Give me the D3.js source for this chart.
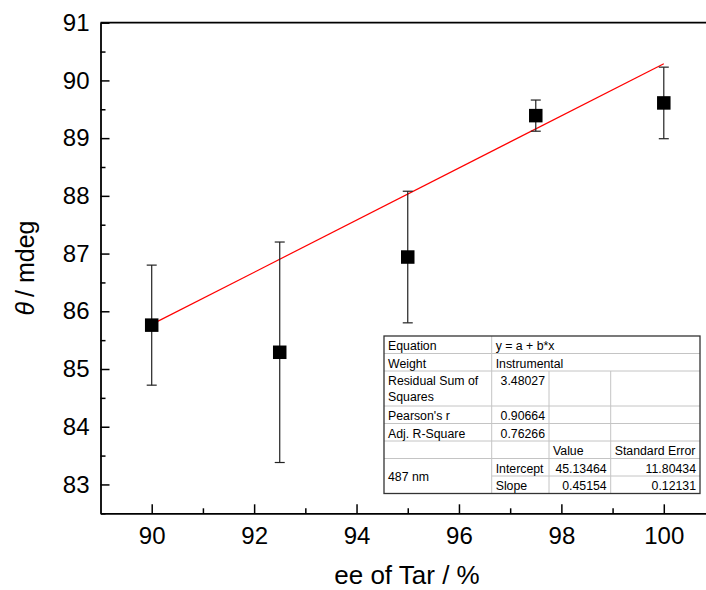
<!DOCTYPE html>
<html>
<head>
<meta charset="utf-8">
<script src="https://cdn.jsdelivr.net/npm/d3@7"></script>
<style>
  body { margin: 0; background: #fff; }
  svg { display: block; font-family: "Liberation Sans", Arial, sans-serif; }
</style>
</head>
<body>
<div id="chart-area"></div>
<script>
var eeValues = [90, 92.5, 95, 97.5, 100];
var thetaValues = [85.76, 85.29, 86.94, 89.39, 89.61];
var errValues = [1.04, 1.91, 1.14, 0.27, 0.62];

// linear fit reported in the table
var fitIntercept = 45.13464;
var fitSlope = 0.45154;
var fitRange = [90, 100];

var xTicks = [90, 92, 94, 96, 98, 100];
var xMinorTicks = [91, 93, 95, 97, 99];
var yTicks = [83, 84, 85, 86, 87, 88, 89, 90, 91];
var yMinorTicks = [82.5, 83.5, 84.5, 85.5, 86.5, 87.5, 88.5, 89.5, 90.5];

// fit table text
var statNames = ["Equation", "Weight", "Residual Sum of|Squares", "Pearson's r", "Adj. R-Square"];
var statValues = ["y = a + b*x", "Instrumental", "3.48027", "0.90664", "0.76266"];
var paramHeader = ["Value", "Standard Error"];
var paramNames = ["Intercept", "Slope"];
var paramValues = ["45.13464", "0.45154"];
var paramErrors = ["11.80434", "0.12131"];
var seriesName = "487 nm";

var width = 706, height = 590;

var svg = d3.select("#chart-area").append("svg")
    .attr("width", width)
    .attr("height", height);

var x = d3.scaleLinear().domain([89, 101]).range([100.5, 715]);
var y = d3.scaleLinear().domain([82.5, 91]).range([513.3, 22.7]);

// top frame line
svg.append("line")
    .attr("x1", x(89)).attr("x2", width)
    .attr("y1", y(91)).attr("y2", y(91))
    .attr("stroke", "#000").attr("stroke-width", 1.8);

// minor ticks
svg.append("g")
    .attr("transform", "translate(0," + y(82.5) + ")")
    .call(d3.axisBottom(x).tickValues(xMinorTicks).tickSize(-5).tickFormat(""))
    .call(function(g){ g.select(".domain").remove(); })
    .selectAll("line").attr("stroke-width", 1.5);
svg.append("g")
    .attr("transform", "translate(" + x(89) + ",0)")
    .call(d3.axisLeft(y).tickValues(yMinorTicks).tickSize(-5).tickFormat(""))
    .call(function(g){ g.select(".domain").remove(); })
    .selectAll("line").attr("stroke-width", 1.5);

// x axis
var xAxis = svg.append("g")
    .attr("transform", "translate(0," + y(82.5) + ")")
    .call(d3.axisBottom(x).tickValues(xTicks).tickSize(-9).tickSizeOuter(0).tickPadding(14));
xAxis.select(".domain").attr("stroke-width", 1.8);
xAxis.selectAll(".tick line").attr("stroke-width", 1.5);
xAxis.selectAll("text")
    .attr("font-size", 24)
    .attr("font-family", "Liberation Sans, Arial, sans-serif")
    .attr("fill", "#000");

// y axis
var yAxis = svg.append("g")
    .attr("transform", "translate(" + x(89) + ",0)")
    .call(d3.axisLeft(y).tickValues(yTicks).tickSize(-9).tickSizeOuter(0).tickPadding(11));
yAxis.select(".domain").attr("stroke-width", 1.8);
yAxis.selectAll(".tick line").attr("stroke-width", 1.5);
yAxis.selectAll("text")
    .attr("font-size", 24)
    .attr("font-family", "Liberation Sans, Arial, sans-serif")
    .attr("fill", "#000");

// axis titles
svg.append("text")
    .attr("x", 407).attr("y", 584)
    .attr("text-anchor", "middle")
    .attr("font-size", 26)
    .text("ee of Tar / %");

var yTitle = svg.append("text")
    .attr("transform", "translate(34,268) rotate(-90)")
    .attr("text-anchor", "middle")
    .attr("font-size", 25);
yTitle.append("tspan").attr("font-style", "italic").text("\u03b8");
yTitle.append("tspan").text("\u2009/ mdeg");

// fit line
svg.append("line")
    .attr("x1", x(fitRange[0])).attr("y1", y(fitIntercept + fitSlope * fitRange[0]))
    .attr("x2", x(fitRange[1])).attr("y2", y(fitIntercept + fitSlope * fitRange[1]))
    .attr("stroke", "#ff0000").attr("stroke-width", 1.2);

// error bars
var bars = svg.selectAll(".err")
    .data(eeValues)
    .enter().append("g").attr("class", "err")
    .attr("stroke", "#222").attr("stroke-width", 1.2);
bars.append("line")
    .attr("x1", function(d){ return x(d); })
    .attr("x2", function(d){ return x(d); })
    .attr("y1", function(d, i){ return y(thetaValues[i] + errValues[i]); })
    .attr("y2", function(d, i){ return y(thetaValues[i] - errValues[i]); });
bars.append("line")
    .attr("x1", function(d){ return x(d) - 5; })
    .attr("x2", function(d){ return x(d) + 5; })
    .attr("y1", function(d, i){ return y(thetaValues[i] + errValues[i]); })
    .attr("y2", function(d, i){ return y(thetaValues[i] + errValues[i]); });
bars.append("line")
    .attr("x1", function(d){ return x(d) - 5; })
    .attr("x2", function(d){ return x(d) + 5; })
    .attr("y1", function(d, i){ return y(thetaValues[i] - errValues[i]); })
    .attr("y2", function(d, i){ return y(thetaValues[i] - errValues[i]); });

// square markers
var side = 13.5;
svg.selectAll(".pt")
    .data(eeValues)
    .enter().append("rect").attr("class", "pt")
    .attr("x", function(d){ return x(d) - side / 2; })
    .attr("y", function(d, i){ return y(thetaValues[i]) - side / 2; })
    .attr("width", side).attr("height", side)
    .attr("fill", "#000");

// ---- fit table ----
var colX = [384, 491.7, 549, 610.7, 700];
var rowH = 17.5, tableTop = 336;
var spans = [1, 1, 2, 1, 1, 1, 1, 1];
var rowY = [tableTop];
spans.forEach(function(s, i){ rowY.push(rowY[i] + s * rowH); });

var tbl = svg.append("g").attr("font-size", 12.3).attr("fill", "#000");
var grid = tbl.append("g").attr("stroke", "#c4c4c4").attr("stroke-width", 1);

// horizontal lines
for (var r = 1; r < spans.length; r++) {
    var startX = (r === 7) ? colX[1] : colX[0];
    grid.append("line").attr("x1", startX).attr("x2", colX[4])
        .attr("y1", rowY[r]).attr("y2", rowY[r]);
}
// vertical lines
grid.append("line").attr("x1", colX[1]).attr("x2", colX[1]).attr("y1", rowY[0]).attr("y2", rowY[8]);
[2, 3].forEach(function(c){
    grid.append("line").attr("x1", colX[c]).attr("x2", colX[c]).attr("y1", rowY[2]).attr("y2", rowY[8]);
});
tbl.append("rect")
    .attr("x", colX[0]).attr("y", rowY[0])
    .attr("width", colX[4] - colX[0]).attr("height", rowY[8] - rowY[0])
    .attr("fill", "none").attr("stroke", "#333").attr("stroke-width", 1.3);

function cell(txt, col, baseline, align) {
    var t = tbl.append("text").attr("y", baseline).text(txt);
    if (align === "right") t.attr("x", colX[col + 1] - 4).attr("text-anchor", "end");
    else t.attr("x", colX[col] + 4);
    return t;
}

statNames.forEach(function(name, i){
    var base = rowY[i] + 14;
    var parts = name.split("|");
    parts.forEach(function(p, k){ cell(p, 0, base + k * 16); });
    cell(statValues[i], 1, base, i < 2 ? "left" : "right");
});
cell(paramHeader[0], 2, rowY[5] + 14);
cell(paramHeader[1], 3, rowY[5] + 14);
paramNames.forEach(function(name, i){
    var base = rowY[6 + i] + 14;
    cell(name, 1, base);
    cell(paramValues[i], 2, base, "right");
    cell(paramErrors[i], 3, base, "right");
});
cell(seriesName, 0, (rowY[6] + rowY[8]) / 2 + 4.5);
</script>
</body>
</html>
